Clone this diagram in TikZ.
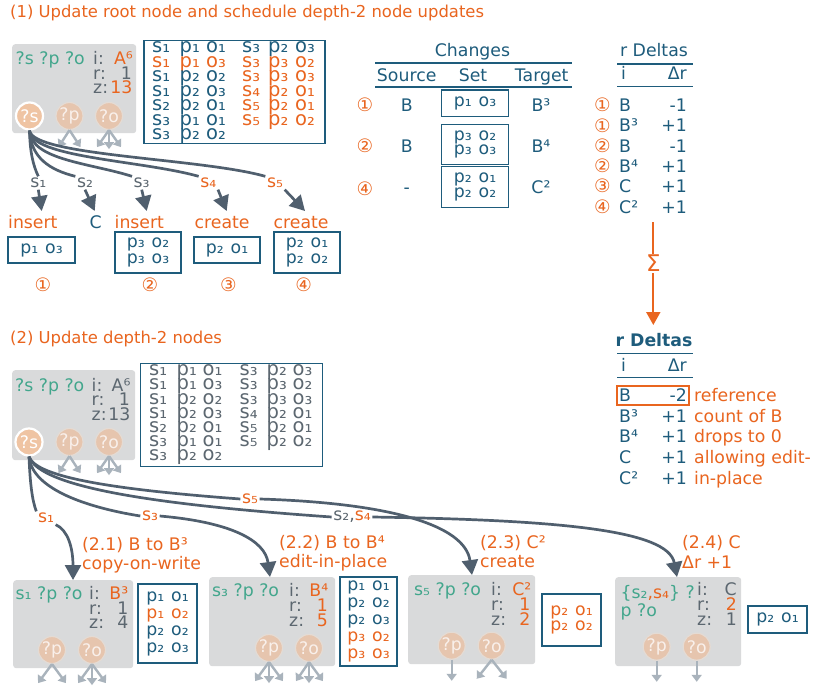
\documentclass[tikz,border=0pt]{standalone}
\usepackage{fontspec}
\setmainfont{DejaVu Sans}
\usetikzlibrary{arrows.meta,calc}
\definecolor{orng}{HTML}{E9651F}
\definecolor{blu}{HTML}{1E5C7C}
\definecolor{grn}{HTML}{42A68C}
\definecolor{gry}{HTML}{5C6770}
\definecolor{nodebg}{HTML}{D9DADB}
\definecolor{darr}{HTML}{505F6E}
\definecolor{larr}{HTML}{A9B3BC}
\definecolor{circA}{HTML}{EFC4A3}
\definecolor{circB}{HTML}{E6C5AE}
\definecolor{circBd}{HTML}{E4DBD4}
\newcommand\fsA{\fontsize{17.3}{20}\selectfont}
\newcommand\fsT{\fontsize{16.4}{19}\selectfont}
\newcommand\fsR{\fontsize{19.5}{20}\selectfont}
\newcommand\fsC{\fontsize{18.5}{19}\selectfont}
\newcommand\fsL{\fontsize{17.3}{15.5}\selectfont}
\newcommand\fsM{\fontsize{17.3}{14.5}\selectfont}
\newcommand\fsP{\fontsize{17.3}{17}\selectfont}
\newcommand\fsQ{\fontsize{17.3}{15}\selectfont}
\newcommand\gap{\hspace{7pt}}
\begin{document}
\begin{tikzpicture}[x=1pt,y=-1pt,
 t/.style={font=\fsA, inner sep=0pt, anchor=base west},
 te/.style={t, anchor=base east},
 tc/.style={t, anchor=base},
 ttl/.style={font=\fsT, inner sep=0pt, anchor=base west, text=orng},
 tb/.style={font=\fsR, inner sep=0pt, anchor=base west},
 gbox/.style={fill=nodebg, rounded corners=3pt, inner sep=0pt, anchor=north west},
 sbox/.style={draw=blu, line width=1.5pt, inner sep=0pt, align=center, text=blu},
 cs/.style={circle, fill=circA, draw=white, line width=2.2pt, minimum size=27pt, inner sep=0pt, text=white, font=\fsA},
 cf/.style={circle, fill=circB, draw=circBd, line width=1.2pt, minimum size=27pt, inner sep=0pt, text=white!75!circB, font=\fsA},
 conn/.style={draw=darr, line width=2.7pt},
 conarr/.style={conn, -{Triangle[length=15pt,width=16pt]}},
 larrow/.style={draw=larr, line width=2.4pt, -{Triangle[length=7pt,width=10pt]}},
 lab/.style={font=\fsA, inner sep=1.5pt},
 rule/.style={draw=blu, line width=1.6pt},
 cn/.style={font=\fsC, inner sep=0pt, text=orng},
]
\fill[white] (0,0) rectangle (814,690);
\useasboundingbox (0,0) rectangle (814,690);

% ---------------- Section 1 ----------------
\node[ttl] (title1) at (10,17.5) {(1) Update root node and schedule depth-2 node updates};
\node[gbox, minimum width=124pt, minimum height=89pt] (root1) at (12,44) {};
\node[t, text=grn] (r1v) at (15.5,65) {?s ?p ?o};
\node[t, text=gry] (r1i) at (93,65) {i:};
\node[te, text=orng] (r1iv) at (133,65) {A⁶};
\node[t, text=gry] (r1r) at (93,79.5) {r:};
\node[te, text=gry] (r1rv) at (132,79.5) {1};
\node[t, text=gry] (r1z) at (93,94) {z:};
\node[te, text=orng] (r1zv) at (132.5,94) {13};
\node[cs] (r1s) at (29.5,116) {?s};
\node[cf] (r1p) at (69.5,116) {?p};
\node[cf] (r1o) at (109,116) {?o};
\draw[larrow] (r1p.south) -- ++(-11,17);
\draw[larrow] (r1p.south) -- ++(11,17);
\draw[larrow] (r1o.south) -- ++(-12,17);
\draw[larrow] (r1o.south) -- ++(0,19);
\draw[larrow] (r1o.south) -- ++(12,17);

% triple tables
\node[draw=blu, line width=1.5pt, inner sep=0pt, minimum width=181pt, minimum height=103pt, anchor=north west] (tab1) at (143,40) {};
\node[draw=blu, line width=1.5pt, inner sep=0pt, minimum width=182pt, minimum height=103pt, anchor=north west] (tab2) at (139.5,362.5) {};
\foreach \xa/\xb/\xc/\col [count=\i from 0] in {₁/₁/₁/blu,₁/₁/₃/orng,₁/₂/₂/blu,₁/₂/₃/blu,₂/₂/₁/blu,₃/₁/₁/blu,₃/₂/₂/blu}{
 \node[tb,text=\col] (ta-s\i) at (152,52.7+14.55*\i) {s\xa};
 \node[tb,text=\col] (ta-p\i) at (179.5,52.7+14.55*\i) {p\xb};
 \node[tb,text=\col] (ta-o\i) at (206,52.7+14.55*\i) {o\xc};
 \node[tb,text=gry] (tc-s\i) at (149,375.7+14.2*\i) {s\xa};
 \node[tb,text=gry] (tc-p\i) at (176.5,375.7+14.2*\i) {p\xb};
 \node[tb,text=gry] (tc-o\i) at (202.5,375.7+14.2*\i) {o\xc};
}
\foreach \xa/\xb/\xc/\col [count=\i from 0] in {₃/₂/₃/blu,₃/₃/₂/orng,₃/₃/₃/orng,₄/₂/₁/orng,₅/₂/₁/orng,₅/₂/₂/orng}{
 \node[tb,text=\col] (tb-s\i) at (242,52.7+14.55*\i) {s\xa};
 \node[tb,text=\col] (tb-p\i) at (268,52.7+14.55*\i) {p\xb};
 \node[tb,text=\col] (tb-o\i) at (295,52.7+14.55*\i) {o\xc};
 \node[tb,text=gry] (td-s\i) at (239.5,375.7+14.2*\i) {s\xa};
 \node[tb,text=gry] (td-p\i) at (266.5,375.7+14.2*\i) {p\xb};
 \node[tb,text=gry] (td-o\i) at (292.5,375.7+14.2*\i) {o\xc};
}

% connectors section 1
\node[lab, text=gry] (l1a) at (38.3,183) {s₁};
\node[lab, text=gry] (l1b) at (85,183) {s₂};
\node[lab, text=gry] (l1c) at (141.7,183) {s₃};
\node[lab, text=orng] (l1d) at (208.3,183) {s₄};
\node[lab, text=orng] (l1e) at (275,183) {s₅};
\draw[conn] (r1s.south) .. controls (30,152) and (33,165) .. (l1a.north);
\draw[conn] (r1s.south) .. controls (31,158) and (50,170) .. (l1b.north west);
\draw[conn] (r1s.south) .. controls (31,160) and (90,163) .. (l1c.north west);
\draw[conn] (r1s.south) .. controls (32,158) and (140,160) .. (l1d.north west);
\draw[conn] (r1s.south) .. controls (33,156) and (200,158) .. (l1e.north west);

\node[t, text=orng] (ins1) at (8,228) {insert};
\node[t, text=blu] (tgtC) at (89.5,228) {C};
\node[t, text=orng] (ins2) at (114.5,228) {insert};
\node[t, text=orng] (cre1) at (194.5,228) {create};
\node[t, text=orng] (cre2) at (273.5,228) {create};
\coordinate (tp1) at (41.7,211);
\coordinate (tp2) at (94.7,211);
\coordinate (tp3) at (146.7,211);
\coordinate (tp4) at (226.7,211);
\coordinate (tp5) at (305,211);
\draw[conarr] (l1a.south) -- (tp1);
\draw[conarr] (l1b.south) -- (tp2);
\draw[conarr] (l1c.south) -- (tp3);
\draw[conarr] (l1d.south east) -- (tp4);
\draw[conarr] (l1e.south east) -- (tp5);

\node[sbox, minimum width=67pt, minimum height=26pt, font=\fsA] (bx1) at (41.5,250) {p₁\gap o₃};
\node[sbox, minimum width=66pt, minimum height=41pt, font=\fsL] (bx2) at (148,252.5) {p₃\gap o₂\\p₃\gap o₃};
\node[sbox, minimum width=66pt, minimum height=26pt, font=\fsA] (bx3) at (227,250) {p₂\gap o₁};
\node[sbox, minimum width=66pt, minimum height=41pt, font=\fsL] (bx4) at (307,252.5) {p₂\gap o₁\\p₂\gap o₂};
\node[cn] (cn1) at (43,285) {①};
\node[cn] (cn2) at (150,285) {②};
\node[cn] (cn3) at (228.3,285) {③};
\node[cn] (cn4) at (303.7,285) {④};

% Changes table
\node[tc, text=blu] (chg) at (472.5,56.7) {Changes};
\draw[rule] (375,63.3) -- (572,63.3);
\node[tc, text=blu] (hsrc) at (406.7,81.5) {Source};
\node[tc, text=blu] (hset) at (473,81.5) {Set};
\node[tc, text=blu] (htgt) at (541.7,81.5) {Target};
\draw[rule] (375,87.3) -- (572,87.3);
\node[cn] (c1n) at (365,105) {①};
\node[tc, text=blu] (c1s) at (406.7,111.7) {B};
\node[sbox, minimum width=66.6pt, minimum height=26.7pt, font=\fsA] (c1set) at (475,103.3) {p₁\gap o₃};
\node[tc, text=blu] (c1t) at (541,111.7) {B³};
\node[cn] (c2n) at (365,146) {②};
\node[tc, text=blu] (c2s) at (406.7,152.7) {B};
\node[sbox, minimum width=66.6pt, minimum height=40pt, font=\fsM] (c2set) at (475,144.3) {p₃\gap o₂\\p₃\gap o₃};
\node[tc, text=blu] (c2t) at (541,152.7) {B⁴};
\node[cn] (c4n) at (365,188.3) {④};
\node[tc, text=blu] (c4s) at (406.7,193.3) {-};
\node[sbox, minimum width=66.6pt, minimum height=41pt, font=\fsM] (c4set) at (475,187.2) {p₂\gap o₁\\p₂\gap o₂};
\node[tc, text=blu] (c4t) at (541,193.3) {C²};

% r Deltas 1
\node[tc, text=blu] (rd1) at (654,56.7) {r Deltas};
\draw[rule] (617,64.3) -- (693,64.3);
\node[t, text=blu] (rd1i) at (621,80) {i};
\node[te, text=blu] (rd1d) at (687,80) {Δr};
\draw[rule] (617,86.7) -- (693,86.7);
\foreach \cc/\kk/\vv [count=\j from 0] in {①/B/-1,①/B³/+1,②/B/-1,②/B⁴/+1,③/C/+1,④/C²/+1}{
 \node[cn] (rd1n\j) at (602.5,105+20.3*\j) {\cc};
 \node[t, text=blu] (rd1k\j) at (619,111.5+20.3*\j) {\kk};
 \node[te, text=blu] (rd1v\j) at (687,111.5+20.3*\j) {\vv};
}
\coordinate (sigA) at (653.3,222);
\coordinate (sigB) at (653.3,325);
\draw[orng, line width=2pt, -{Triangle[length=13pt,width=14pt]}] (sigA) -- node[pos=0.4, fill=white, inner sep=1pt, font=\fontsize{23}{23}\selectfont, text=orng] (sig) {Σ} (sigB);

% ---------------- Section 2 ----------------
\node[ttl] (title2) at (10,343) {(2) Update depth-2 nodes};
\node[gbox, minimum width=123pt, minimum height=90pt] (root2) at (12,370) {};
\node[t, text=grn] (r2v) at (15,391) {?s ?p ?o};
\node[t, text=gry] (r2i) at (91.5,391) {i:};
\node[te, text=gry] (r2iv) at (130.7,391) {A⁶};
\node[t, text=gry] (r2r) at (91.5,405.5) {r:};
\node[te, text=gry] (r2rv) at (130,405.5) {1};
\node[t, text=gry] (r2z) at (91.5,420) {z:};
\node[te, text=gry] (r2zv) at (130.7,420) {13};
\node[cs] (r2s) at (29,442) {?s};
\node[cf] (r2p) at (69.5,442) {?p};
\node[cf] (r2o) at (109,442) {?o};
\draw[larrow] (r2p.south) -- ++(-11,17);
\draw[larrow] (r2p.south) -- ++(11,17);
\draw[larrow] (r2o.south) -- ++(-12,17);
\draw[larrow] (r2o.south) -- ++(0,19);
\draw[larrow] (r2o.south) -- ++(12,17);

% r Deltas 2
\node[tc, text=blu, font=\fsA\bfseries] (rd2) at (654,346.7) {r Deltas};
\draw[rule] (617,353.3) -- (693,353.3);
\node[t, text=blu] (rd2i) at (621,371.7) {i};
\node[te, text=blu] (rd2d) at (687,371.7) {Δr};
\draw[rule] (617,377.3) -- (693,377.3);
\node[draw=orng, line width=1.5pt, inner sep=0pt, minimum width=72pt, minimum height=19pt, anchor=north west] (rdbox) at (616,385) {};
\foreach \kk/\vv/\nn [count=\j from 0] in {B/-2/reference,B³/+1/count of B,B⁴/+1/drops to 0,C/+1/allowing edit-,C²/+1/in-place}{
 \node[t, text=blu] (rd2k\j) at (619,401.7+20.6*\j) {\kk};
 \node[te, text=blu] (rd2v\j) at (687,401.7+20.6*\j) {\vv};
 \node[t, text=orng] (rd2n\j) at (694,401.7+20.6*\j) {\nn};
}

% bottom nodes
% (2.1)
\node[t, text=orng] (h21a) at (82,550) {(2.1) B to B³};
\node[t, text=orng] (h21b) at (82,569.5) {copy-on-write};
\node[gbox, minimum width=120pt, minimum height=88pt] (n21) at (13,580) {};
\node[t, text=grn] (n21v) at (15.5,599.5) {s₁ ?p ?o};
\node[t, text=gry] (n21i) at (89,599.5) {i:};
\node[te, text=orng] (n21iv) at (128.5,599.5) {B³};
\node[t, text=gry] (n21r) at (89,614) {r:};
\node[te, text=gry] (n21rv) at (128.5,614) {1};
\node[t, text=gry] (n21z) at (89,628.5) {z:};
\node[te, text=gry] (n21zv) at (128.5,628.5) {4};
\node[cf] (n21p) at (52,650) {?p};
\node[cf] (n21o) at (92,650) {?o};
\draw[larrow] (n21p.south) -- ++(-14,19);
\draw[larrow] (n21p.south) -- ++(14,19);
\draw[larrow] (n21o.south) -- ++(-14,19);
\draw[larrow] (n21o.south) -- ++(0,21);
\draw[larrow] (n21o.south) -- ++(14,19);
\node[sbox, minimum width=59pt, minimum height=79pt, font=\fsP] (tb21) at (167.5,623.5) {p₁\gap o₁\\\textcolor{orng}{p₁\gap o₂}\\p₂\gap o₂\\p₂\gap o₃};

% (2.2)
\node[t, text=orng] (h22a) at (279,548) {(2.2) B to B⁴};
\node[t, text=orng] (h22b) at (279,567) {edit-in-place};
\node[gbox, minimum width=126pt, minimum height=89pt] (n22) at (209,577) {};
\node[t, text=grn] (n22v) at (212,596.7) {s₃ ?p ?o};
\node[t, text=gry] (n22i) at (289,596.7) {i:};
\node[te, text=orng] (n22iv) at (328.5,596.7) {B⁴};
\node[t, text=gry] (n22r) at (289,611.7) {r:};
\node[te, text=orng] (n22rv) at (328,611.7) {1};
\node[t, text=gry] (n22z) at (289,626.7) {z:};
\node[te, text=orng] (n22zv) at (328,626.7) {5};
\node[cf] (n22p) at (269,648) {?p};
\node[cf] (n22o) at (309,648) {?o};
\draw[larrow] (n22p.south) -- ++(-14,19);
\draw[larrow] (n22p.south) -- ++(0,21);
\draw[larrow] (n22p.south) -- ++(14,19);
\draw[larrow] (n22o.south) -- ++(-13,19);
\draw[larrow] (n22o.south) -- ++(0,21);
\draw[larrow] (n22o.south) -- ++(14,19);
\node[sbox, minimum width=57pt, minimum height=89pt, font=\fsP] (tb22) at (368.5,621.5) {p₁\gap o₁\\p₂\gap o₂\\p₂\gap o₃\\\textcolor{orng}{p₃\gap o₂}\\\textcolor{orng}{p₃\gap o₃}};

% (2.3)
\node[t, text=orng] (h23a) at (480,548) {(2.3) C²};
\node[t, text=orng] (h23b) at (480,567.5) {create};
\node[gbox, minimum width=127pt, minimum height=89pt] (n23) at (408,575) {};
\node[t, text=grn] (n23v) at (414,595.5) {s₅ ?p ?o};
\node[t, text=gry] (n23i) at (491,595.5) {i:};
\node[te, text=orng] (n23iv) at (531.5,595.5) {C²};
\node[t, text=gry] (n23r) at (491,610.5) {r:};
\node[te, text=orng] (n23rv) at (530.5,610.5) {1};
\node[t, text=gry] (n23z) at (491,625.5) {z:};
\node[te, text=orng] (n23zv) at (530.5,625.5) {2};
\node[cf] (n23p) at (451.7,645.7) {?p};
\node[cf] (n23o) at (491.7,645.7) {?o};
\draw[larrow] (n23p.south) -- ++(0,21);
\draw[larrow] (n23o.south) -- ++(-15,19);
\draw[larrow] (n23o.south) -- ++(15,19);
\node[sbox, minimum width=59pt, minimum height=52pt, font=\fsQ, text=orng] (tb23) at (571.5,620) {p₂\gap o₁\\p₂\gap o₂};

% (2.4)
\node[t, text=orng] (h24a) at (682,548) {(2.4) C};
\node[t, text=orng] (h24b) at (682,568) {Δr +1};
\node[gbox, minimum width=126pt, minimum height=89pt] (n24) at (615,577) {};
\node[t, text=grn] (n24v) at (620.5,598.3) {\{s₂\textcolor{orng}{,s₄}\} ?};
\node[t, text=grn] (n24w) at (620.5,616.7) {p ?o};
\node[t, text=gry] (n24i) at (697,595) {i:};
\node[te, text=gry] (n24iv) at (737,595) {C};
\node[t, text=gry] (n24r) at (697,610.5) {r:};
\node[te, text=orng] (n24rv) at (737,610.5) {2};
\node[t, text=gry] (n24z) at (697,625.7) {z:};
\node[te, text=gry] (n24zv) at (737,625.7) {1};
\node[cf] (n24p) at (656.7,646.7) {?p};
\node[cf] (n24o) at (696.7,646.7) {?o};
\draw[larrow] (n24p.south) -- ++(0,21);
\draw[larrow] (n24o.south) -- ++(0,21);
\node[sbox, minimum width=59pt, minimum height=27pt, font=\fsA] (tb24) at (777.5,619.5) {p₂\gap o₁};

% connectors section 2
\node[lab, text=orng] (l2a) at (46,518) {s₁};
\node[lab, text=orng] (l2c) at (150,516) {s₃};
\node[lab, text=orng] (l2e) at (250,499) {s₅};
\node[lab] (l2bd) at (352,517) {\textcolor{gry}{s₂,}\textcolor{orng}{s₄}};
\coordinate (t21) at (73,580);
\coordinate (t22) at (270,577);
\coordinate (t23) at (472,575);
\coordinate (t24) at (677,577);
\draw[conn] (r2s.south) .. controls (30,482) and (32,500) .. (l2a.north west);
\draw[conarr] (l2a.south east) .. controls (68,530) and (73,548) .. (t21);
\draw[conn] (r2s.south) .. controls (32,490) and (90,508) .. (l2c.west);
\draw[conarr] (l2c.east) .. controls (230,522) and (265,540) .. (t22);
\draw[conn] (r2s.south) .. controls (36,478) and (120,490) .. (l2e.west);
\draw[conarr] (l2e.east) .. controls (390,503) and (465,525) .. (t23);
\draw[conn] (r2s.south) .. controls (40,488) and (160,505) .. (l2bd.west);
\draw[conarr] (l2bd.east) .. controls (560,520) and (668,530) .. (t24);
\end{tikzpicture}
\end{document}
